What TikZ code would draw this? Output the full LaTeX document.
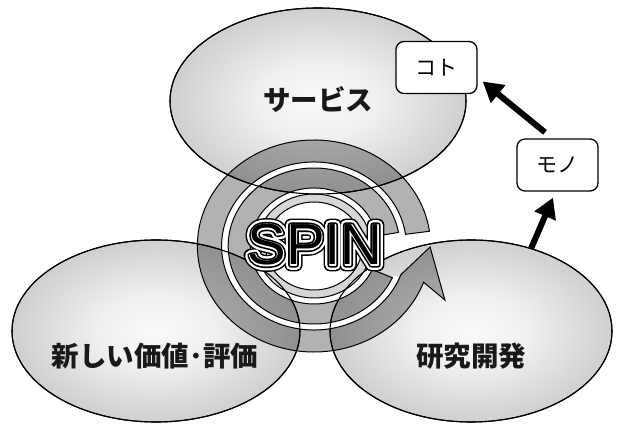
\documentclass[tikz,border=0pt]{standalone}
\usepackage{fontspec}
\usetikzlibrary{shapes.geometric,arrows.meta,calc}
\newfontfamily\jp{Noto Sans CJK JP}
\newfontfamily\spinA{Liberation Sans}[FakeBold=22]
\newfontfamily\spinB{Liberation Sans}[FakeBold=17]
\newfontfamily\spinC{Liberation Sans}[FakeBold=9]
\newfontfamily\spinD{Liberation Sans}[FakeBold=3.4]
\newfontfamily\spinE{Liberation Sans}
\pgfdeclareradialshading{blobshade}{\pgfpointorigin}{color(0bp)=(black!2); color(10bp)=(black!6); color(50bp)=(black!40)}
\begin{document}
\begin{tikzpicture}[x=1pt,y=1pt,
  blob/.style={ellipse, draw=black, line width=1.1pt, inner sep=0pt, shade, shading=blobshade},
  lbl/.style={font=\jp\bfseries\fontsize{27.5}{27.5}\selectfont, text=black!90, inner sep=0pt},
  tag/.style={draw=black, line width=1.3pt, rounded corners=8pt, fill=white, minimum width=81pt, minimum height=52pt, inner sep=0pt, font=\jp\fontsize{21}{21}\selectfont},
  bigarrow/.style={line width=6pt, -{Triangle[length=20pt,width=22pt]}},
  band/.style={fill=black, fill opacity=0.3},
  ringline/.style={draw=black, line width=1pt},
  spinlayer/.style={inner sep=0pt, line join=round, anchor=center},
]
\useasboundingbox (0,0) rectangle (620,430);
% three fields
\node[blob, minimum width=296pt, minimum height=186pt] (top) at (318,329) {};
\node[blob, minimum width=288pt, minimum height=182pt] (lft) at (156,99) {};
\node[blob, minimum width=282pt, minimum height=182pt] (rgt) at (471,99) {};
% spiral
\begin{scope}[shift={(314,184)}, xscale=1.1]
  \fill[white] (0,0) circle[radius=58];
  \fill[white] (9:84) arc[start angle=9,end angle=338,radius=84] -- (338:78) arc[start angle=338,end angle=9,radius=78] -- cycle;
  \path[band, ringline] (8:106) arc[start angle=8,end angle=340,radius=106] -- (119,-54) -- (105.5,-1) -- (340:84) arc[start angle=340,end angle=8,radius=84] -- cycle;
  \path[band, ringline] (10:78) arc[start angle=10,end angle=336,radius=78] -- (336:58) arc[start angle=336,end angle=10,radius=58] -- cycle;
  \path[band, fill opacity=0.16, ringline, even odd rule] (0,0) circle[radius=52] (0,0) circle[radius=44];
\end{scope}
% field outlines over the spiral
\draw[line width=1.1pt] (top.center) ellipse[x radius=148, y radius=93];
\draw[line width=1.1pt] (lft.center) ellipse[x radius=144, y radius=91];
\draw[line width=1.1pt] (rgt.center) ellipse[x radius=141, y radius=91];
% SPIN lettering
\node[spinlayer, text=black, font=\spinA\fontsize{58}{58}\selectfont] (spin1) at (315,185) {SPIN};
\node[spinlayer, text=white, font=\spinB\fontsize{58}{58}\selectfont] (spin2) at (315,185) {SPIN};
\node[spinlayer, text=black, font=\spinC\fontsize{58}{58}\selectfont] (spin3) at (315,185) {SPIN};
\node[spinlayer, text=white, font=\spinD\fontsize{58}{58}\selectfont] (spin4) at (315,185) {SPIN};
\node[spinlayer, text=black, font=\spinE\fontsize{58}{58}\selectfont] (spin5) at (315,185) {SPIN};
% labels
\node[lbl] (tservice) at (318,330) {サービス};
\node[lbl] (tnew) at (155,74) {新しい価値･評価};
\node[lbl] (trd) at (471,74) {研究開発};
% boxes and arrows
\node[tag] (koto) at (436.5,362.5) {コト};
\node[tag] (mono) at (557.5,265) {モノ};
\draw[bigarrow] ([shift={(-12.5,6)}]mono.north) -- ([shift={(5,-14)}]koto.east);
\draw[bigarrow] (rgt.54) -- ([shift={(-4.5,-6)}]mono.south);
\end{tikzpicture}
\end{document}
